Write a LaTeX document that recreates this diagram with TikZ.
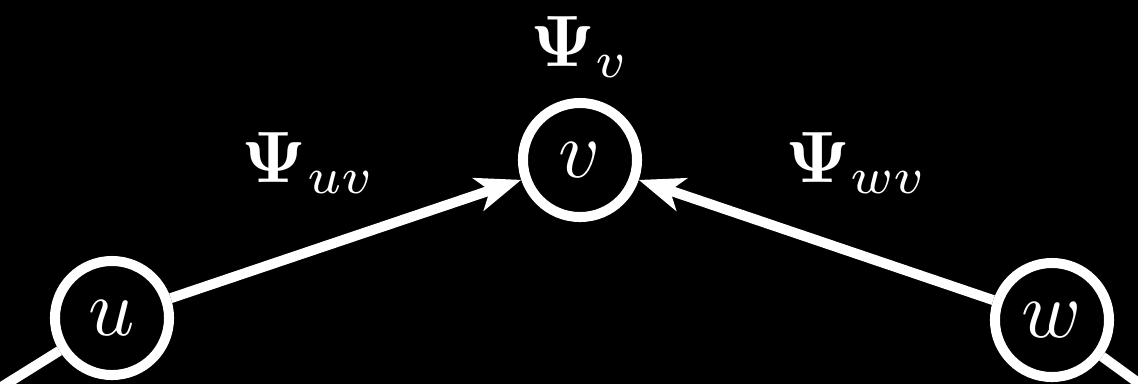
\documentclass[tikz,border=0pt]{standalone}
\usepackage{amsmath,bm}
\usepackage{graphicx}
\usetikzlibrary{arrows.meta}
\tikzset{
  vtx/.style  = {circle, draw=white, line width=1mm, minimum size=1.14cm, inner sep=0pt, text=white},
  msg/.style  = {-{Stealth[length=4.5mm, width=3.4mm, inset=1.2mm]}, white, line width=1mm},
  tail/.style = {white, line width=1mm},
  lbl/.style  = {text=white},
}
\newcommand{\bigtxt}[1]{\scalebox{2.3}{#1}}
\newcommand{\lbltxt}[1]{\scalebox{2.07}{#1}}

\begin{document}
\begin{tikzpicture}[x=0.01cm, y=-0.01cm]
  \useasboundingbox (0,0) rectangle (1138,384);
  \fill[black] (0,0) rectangle (1138,384);
  \clip (0,0) rectangle (1138,384);
  % vertices
  \node[vtx] (u) at (112,318) {\bigtxt{$u$}};
  \node[vtx] (v) at (580,160) {\bigtxt{$v$}};
  \node[vtx] (w) at (1052,320) {\bigtxt{$w$}};
  % edges leaving the frame
  \coordinate (uin)  at (-58,424);
  \coordinate (wout) at (1214,438);
  \draw[tail] (uin) -- (u);
  \draw[tail] (w) -- (wout);
  % messages into v
  \draw[msg] (u) -- (v);
  \draw[msg] (w) -- (v);
  % labels
  \node[lbl] (psiv)  at (580,47)  {\lbltxt{$\bm{\Psi}_{v}$}};
  \node[lbl] (psiuv) at (309,163) {\lbltxt{$\bm{\Psi}_{uv}$}};
  \node[lbl] (psiwv) at (857,163) {\lbltxt{$\bm{\Psi}_{wv}$}};
\end{tikzpicture}
\end{document}
